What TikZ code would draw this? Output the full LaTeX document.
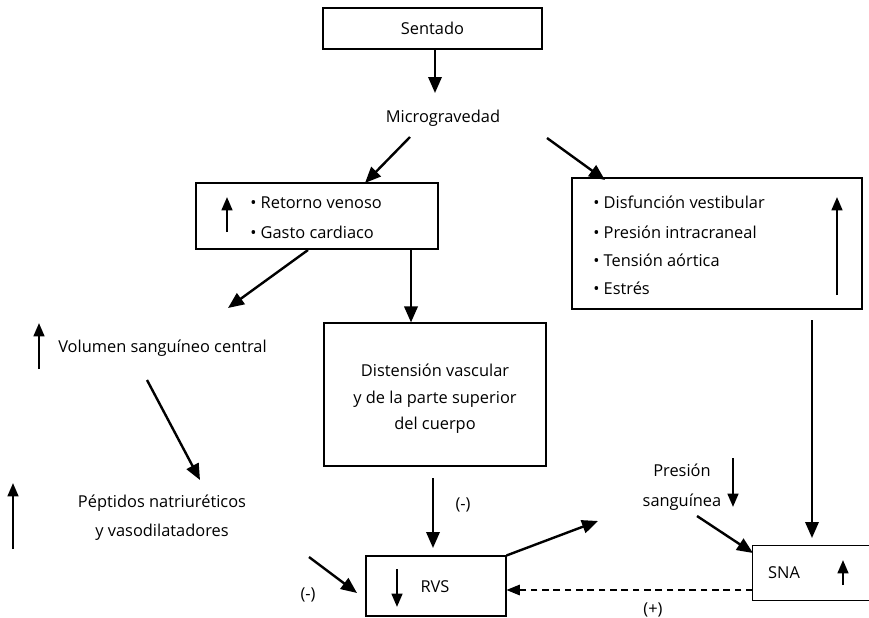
\documentclass[tikz,border=0pt]{standalone}
\usepackage{fontspec}
\setmainfont{Open Sans}
\usetikzlibrary{arrows.meta}
\begin{document}
\begin{tikzpicture}[x=0.75pt,y=-0.75pt,
  every node/.style={font=\fontsize{12.3}{14}\selectfont, inner sep=0pt},
  box/.style={draw, line width=0.8pt},
  arr/.style={line width=1.8pt, -{Triangle[length=12pt,width=10pt]}},
  minor/.style={line width=1.8pt, -{Triangle[length=10pt,width=8pt]}},
  feedback/.style={line width=0.8pt, dash pattern=on 5pt off 3.5pt, -{Triangle[length=10pt,width=8pt]}},
  lbl/.style={anchor=west}]
\useasboundingbox (0,0) rectangle (869,618);

% boxes
\node[box, minimum width=164.25pt, minimum height=30.75pt] (sentado) at (432.5,28.5) {Sentado};
\node (micro) at (443,118) {Microgravedad};
\node[box, minimum width=181.5pt, minimum height=49.5pt] (retorno) at (317,216) {};
\node[box, minimum width=217.5pt, minimum height=98.25pt] (vest) at (717,243.5) {};
\node[box, minimum width=166.5pt, minimum height=107.25pt, align=center,
      font=\fontsize{12.3}{19.9}\selectfont] (dist) at (435,394.5) {};
\node[align=center, font=\fontsize{12.3}{19.9}\selectfont] (distt) at (435,399)
      {Distensión vascular\\y de la parte superior\\del cuerpo};
\node[box, minimum width=105pt, minimum height=45pt] (rvs) at (436,586) {};
% the SNA box runs off the right edge, so only three sides are drawn
\node[minimum width=87pt, minimum height=40.5pt] (sna) at (811,573) {};
\draw[box] (sna.north east) -- (sna.north west) -- (sna.south west) -- (sna.south east);

% texts
\node[lbl] (t1) at (250,203) {• Retorno venoso};
\node[lbl] (t2) at (250,232) {• Gasto cardiaco};
\node[lbl] (v1) at (593,202) {• Disfunción vestibular};
\node[lbl] (v2) at (593,232) {• Presión intracraneal};
\node[lbl] (v3) at (593,260) {• Tensión aórtica};
\node[lbl] (v4) at (593,288) {• Estrés};
\node[lbl] (vol) at (58,348) {Volumen sanguíneo central};
\node[align=center, font=\fontsize{12.3}{21.75}\selectfont] (pep) at (162,517.5) {Péptidos natriuréticos\\y vasodilatadores};
\node[align=center, font=\fontsize{12.3}{22.5}\selectfont] (pres) at (682,487) {Presión\\sanguínea};
\node (rvst) at (435,587) {RVS};
\node (snat) at (784,573) {SNA};
\node (neg1) at (463,505) {(-)};
\node (neg2) at (308,595) {(-)};
\node (pos) at (653,610) {(+)};

% free arrow ends
\coordinate (a1) at (435,93);
\coordinate (a2s) at (410,137);
\coordinate (a2e) at (365,183);
\coordinate (a3s) at (547,138);
\coordinate (a3e) at (605,180);
\coordinate (a4s) at (308,250);
\coordinate (a4e) at (228,308);
\coordinate (a6s) at (147,380);
\coordinate (a6e) at (200,480);
\coordinate (a7s) at (433,478);
\coordinate (a7e) at (433,548);
\coordinate (a8s) at (309,557);
\coordinate (a8e) at (357,593);
\coordinate (a9e) at (598,521);
\coordinate (a10s) at (697,516);
\coordinate (a10e) at (753,553);
\coordinate (a11s) at (812,320);
\coordinate (a11e) at (812,538);

% main flow
\draw[arr] (sentado.south -| a1) -- (a1);
\draw[arr] (a2s) -- (a2e);
\draw[arr] (a3s) -- (a3e);
\draw[arr] (a4s) -- (a4e);
\draw[arr] (retorno.south -| 411,0) -- (dist.north -| 411,0);
\draw[arr] (a6s) -- (a6e);
\draw[arr] (a7s) -- (a7e);
\draw[arr] (a8s) -- (a8e);
\draw[arr] (rvs.north east) -- (a9e);
\draw[arr] (a10s) -- (a10e);
\draw[arr] (a11s) -- (a11e);
\draw[feedback] (sna.west |- 0,590) -- (rvs.east |- 0,590);

% increase / decrease markers
\draw[minor] (227,232) -- (227,197);
\draw[minor] (837,295) -- (837,197);
\draw[minor] (39,369) -- (39,323);
\draw[minor] (13,549) -- (13,483);
\draw[minor] (733,458) -- (733,507);
\draw[minor] (397,569) -- (397,607);
\draw[minor] (843,585) -- (843,560);
\end{tikzpicture}
\end{document}
